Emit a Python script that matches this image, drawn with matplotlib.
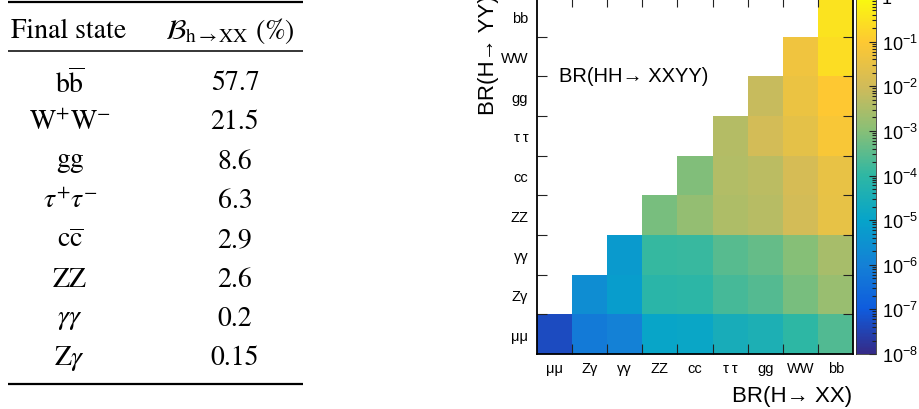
import numpy as np
import matplotlib
matplotlib.use("Agg")
import matplotlib.pyplot as plt
from matplotlib.colors import LinearSegmentedColormap, LogNorm
from matplotlib.ticker import FixedLocator, FuncFormatter, LogLocator, NullFormatter

plt.rcParams["font.family"] = ["Liberation Sans", "DejaVu Sans"]
plt.rcParams["mathtext.fontset"] = "custom"
plt.rcParams["mathtext.rm"] = "Liberation Sans"
plt.rcParams["mathtext.it"] = "Liberation Sans:italic"
plt.rcParams["mathtext.bf"] = "Liberation Sans:bold"

# ── table: single Higgs branching ratios ──────────────────────────────────────
FINAL_STATES = [r"$\mathrm{b}\overline{\mathrm{b}}$", r"$\mathrm{W^{+}W^{-}}$", r"$\mathrm{gg}$",
                r"$\tau^{+}\tau^{-}$", r"$\mathrm{c}\overline{\mathrm{c}}$", r"$\mathrm{ZZ}$",
                r"$\gamma\gamma$", r"$\mathrm{Z}\gamma$"]
BR_PERCENT = [57.7, 21.5, 8.6, 6.3, 2.9, 2.6, 0.2, 0.15]

# ── heatmap: BR(HH -> XXYY), rows = YY (bottom to top), cols = XX ─────────────
CHANNELS = ["μμ", "Zγ", "γγ", "ZZ", "cc", "τ\u2009τ", "gg", "WW", "bb"]
nan = np.nan
BR_HH = [
    [4.8e-8, 6.6e-7, 1.0e-6, 1.1e-5, 1.3e-5, 2.8e-5, 3.8e-5, 9.5e-5, 2.5e-4],
    [nan, 2.3e-6, 6.9e-6, 7.8e-5, 8.7e-5, 1.9e-4, 2.6e-4, 6.5e-4, 1.7e-3],
    [nan, nan, 5.3e-6, 1.2e-4, 1.3e-4, 2.9e-4, 4.0e-4, 9.9e-4, 2.7e-3],
    [nan, nan, nan, 6.8e-4, 1.5e-3, 3.3e-3, 4.5e-3, 1.1e-2, 3.0e-2],
    [nan, nan, nan, nan, 8.4e-4, 3.7e-3, 5.0e-3, 1.25e-2, 3.3e-2],
    [nan, nan, nan, nan, nan, 4.0e-3, 1.1e-2, 2.7e-2, 7.3e-2],
    [nan, nan, nan, nan, nan, nan, 7.4e-3, 3.7e-2, 9.9e-2],
    [nan, nan, nan, nan, nan, nan, nan, 4.6e-2, 2.5e-1],
    [nan, nan, nan, nan, nan, nan, nan, nan, 3.3e-1],
]

# ROOT kBird palette
BIRD = LinearSegmentedColormap.from_list("bird", [
    (0.000, (0.2082, 0.1664, 0.5293)),
    (0.125, (0.0592, 0.3599, 0.8684)),
    (0.250, (0.0780, 0.5041, 0.8385)),
    (0.375, (0.0232, 0.6419, 0.7914)),
    (0.500, (0.1802, 0.7178, 0.6425)),
    (0.625, (0.5301, 0.7492, 0.4662)),
    (0.750, (0.8186, 0.7328, 0.3499)),
    (0.875, (0.9956, 0.7862, 0.1968)),
    (1.000, (0.9764, 0.9832, 0.0539)),
], N=256)

W, H = 920, 410
fig = plt.figure(figsize=(W / 100, H / 100), dpi=100)

# table drawn in pixel coordinates
tab = fig.add_axes([0, 0, 1, 1])
tab.set_xlim(0, W)
tab.set_ylim(H, 0)
tab.axis("off")
tkw = dict(family="STIXGeneral", math_fontfamily="stix", fontsize=20,
           ha="center", va="center", color="black")
tab.plot([8, 303], [3, 3], color="black", lw=1.6, solid_capstyle="butt")
tab.plot([8, 303], [52, 52], color="black", lw=1.1, solid_capstyle="butt")
tab.plot([8, 303], [385, 385], color="black", lw=1.6, solid_capstyle="butt")
tab.text(69, 31, "Final state", **tkw)
tab.text(230, 31, r"$\mathcal{B}_{\mathrm{h}\rightarrow\mathrm{XX}}$ (%)", **tkw)
for i, (fs, br) in enumerate(zip(FINAL_STATES, BR_PERCENT)):
    y = 83.5 + i * 39.3
    tab.text(70, y, fs, **tkw)
    tab.text(235, y, f"{br:g}", **tkw)

# heatmap
x0, x1 = 536.7, 853.3
y_bot, y_top = 355, -2
ax = fig.add_axes([x0 / W, 1 - y_bot / H, (x1 - x0) / W, (y_bot - y_top) / H])
data = np.ma.masked_invalid(np.array(BR_HH))
edges = np.arange(len(CHANNELS) + 1)
norm = LogNorm(vmin=1e-8, vmax=1.0)
mesh = ax.pcolormesh(edges, edges, data, cmap=BIRD, norm=norm,
                     edgecolors="none", antialiased=False)
ax.set_xlim(0, len(CHANNELS))
ax.set_ylim(0, len(CHANNELS))

centers = np.arange(len(CHANNELS)) + 0.5
ax.set_xticks(edges[1:-1])
ax.set_yticks(edges[1:-1])
ax.set_xticks(centers, CHANNELS, minor=True)
ax.set_yticks(centers, CHANNELS, minor=True)
ax.tick_params(which="major", direction="in", length=7.5, width=0.8,
               color="#222222", top=True, right=True,
               labelbottom=False, labelleft=False)
ax.tick_params(which="minor", length=0, labelsize=10.5)
ax.tick_params(axis="x", which="minor", pad=5)
ax.tick_params(axis="y", which="minor", pad=6)
for sp in ax.spines.values():
    sp.set_linewidth(1.3)

ax.text(0.0704, 0.765, "BR(HH→ XXYY)", transform=ax.transAxes,
        fontsize=14.5, ha="left", va="baseline")

fig.text(852 / W, 1 - 401.7 / H, "BR(H→ XX)", fontsize=16,
         ha="right", va="baseline")
fig.text(489 / W, 1 + 5 / H, "BR(H→ YY)", fontsize=16, rotation=90,
         ha="center", va="top")

# colour scale
cx0, cx1 = 855.7, 876
cax = fig.add_axes([cx0 / W, 1 - y_bot / H, (cx1 - cx0) / W, (y_bot - y_top) / H])
cb = fig.colorbar(mesh, cax=cax)
cb.outline.set_linewidth(0.6)
cb.outline.set_edgecolor("#333333")
cax.yaxis.set_major_locator(FixedLocator([10.0 ** k for k in range(-8, 1)]))
cax.yaxis.set_minor_locator(LogLocator(base=10, subs=np.arange(2, 10), numticks=100))
cax.yaxis.set_minor_formatter(NullFormatter())


def decade_label(v, pos):
    k = int(round(np.log10(v)))
    return "1" if k == 0 else rf"$10^{{{k}}}$"


cax.yaxis.set_major_formatter(FuncFormatter(decade_label))
cax.tick_params(which="both", direction="in", right=True, left=False,
                color="#222222", width=0.8, labelsize=13, pad=4)
cax.tick_params(which="major", length=5)
cax.tick_params(which="minor", length=3)

fig.savefig("out.png", dpi=100)
